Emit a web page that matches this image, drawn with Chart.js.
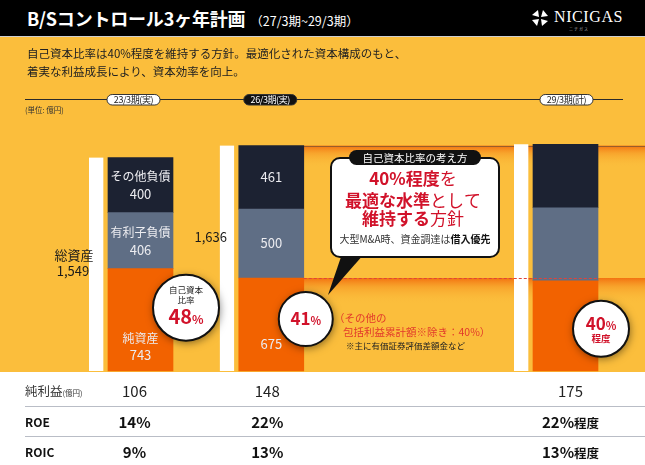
<!DOCTYPE html>
<html lang="ja">
<head>
<meta charset="utf-8">
<title>B/Sコントロール3ヶ年計画</title>
<script src="https://cdn.jsdelivr.net/npm/chart.js@4.4.1/dist/chart.umd.min.js"></script>
<style>
  body { margin: 0; background: #fff; font-family: "Noto Sans CJK JP", "Noto Sans", sans-serif; }
  #wrap { position: relative; width: 645px; height: 465px; overflow: hidden; }
  #chart { position: absolute; left: 0; top: 0; }
  .header { position: absolute; left: 0; top: 0; width: 645px; height: 37px; background: #000; color: #fff; z-index: 2; border-bottom: 1px solid #cfcfcf; box-sizing: border-box; }
  .title { position: absolute; left: 27px; top: 0; line-height: 37px; font-size: 18px; font-weight: 700; letter-spacing: -0.2px; white-space: nowrap; }
  .title span { font-size: 12.5px; font-weight: 400; margin-left: 5px; letter-spacing: 0; }
  .logo { position: absolute; left: 531px; top: 9px; height: 20px; }
  .logo svg { position: absolute; left: 0; top: 0; }
  .logo b { position: absolute; left: 23px; top: -1px; font: 400 16px "Liberation Serif", serif; letter-spacing: 0.6px; }
  .logo i { position: absolute; left: 38px; top: 17px; font: normal 4px "Noto Sans CJK JP"; color: #aaa; letter-spacing: 1px; white-space: nowrap; }
  .lead { position: absolute; left: 27px; top: 45px; font-size: 11.5px; line-height: 17.5px; color: #222; z-index: 2; white-space: nowrap; }
</style>
</head>
<body>
<div id="wrap">
  <canvas id="chart" width="645" height="465"></canvas>
  <div class="header">
    <div class="title">B/Sコントロール3ヶ年計画<span>（27/3期~29/3期）</span></div>
    <div class="logo">
      <svg width="18" height="18" viewBox="-9 -9 18 18">
        <g fill="#fff">
          <path d="M-1,-1 L-8,-3 L-2,-8 Z"/>
          <path d="M-1,-1 L-8,-3 L-2,-8 Z" transform="rotate(90)"/>
          <path d="M-1,-1 L-8,-3 L-2,-8 Z" transform="rotate(180)"/>
          <path d="M-1,-1 L-8,-3 L-2,-8 Z" transform="rotate(270)"/>
        </g>
      </svg>
      <b>NICIGAS</b>
      <i>ニチガス</i>
    </div>
  </div>
  <div class="lead">自己資本比率は40%程度を維持する方針。最適化された資本構成のもと、<br>着実な利益成長により、資本効率を向上。</div>
</div>

<script>
// periods and balance sheet values (億円)
const periods = ["23/3期(実)", "26/3期(実)", "29/3期(計)"];
const totalAssets = [1549, 1636, 1645];
const netAssets = [743, 675, 655];
const interestDebt = [406, 500, 530];
const otherLiab = [400, 461, 460];
const isPlan = [false, false, true];
const equityRatio = [48, 41, 40];

// table under the chart
const netIncome = [106, 148, 175];
const roe = [14, 22, 22];
const roic = [9, 13, 13];

// the three periods sit on a 14-slot axis, leaving room for the callout
const slotCount = 14;
const periodSlot = [0, 4, 13];

const axisLabels = [];
for (let i = 0; i < slotCount; i++) {
    const p = periodSlot.indexOf(i);
    axisLabels.push(p < 0 ? "" : periods[p]);
}
function toSlots(values) {
    const out = new Array(slotCount).fill(null);
    periodSlot.forEach((s, i) => { out[s] = values[i]; });
    return out;
}

const C = {
    yellow: "#FBBE3C",
    orange: "#F26200",
    slate: "#5F6E85",
    navy: "#1C2232",
    red: "#D1122A",
    noteRed: "#E2392B"
};
const FONT = "'Noto Sans CJK JP', 'Noto Sans', sans-serif";

function geom(chart, p) {
    const s = periodSlot[p];
    const w = chart.getDatasetMeta(0).data[s];
    const eq = chart.getDatasetMeta(1).data[s];
    const debt = chart.getDatasetMeta(2).data[s];
    const oth = chart.getDatasetMeta(3).data[s];
    return {
        whiteLeft: w.x - w.width / 2, whiteTop: w.y,
        left: eq.x - eq.width / 2, right: eq.x + eq.width / 2, cx: eq.x,
        bottom: eq.base, eqTop: eq.y, debtTop: debt.y, top: oth.y
    };
}

function txt(ctx, s, x, y, font, color, align) {
    ctx.font = font;
    ctx.fillStyle = color;
    ctx.textAlign = align || "center";
    ctx.textBaseline = "middle";
    ctx.fillText(s, x, y);
}

// mixed font pieces on one baseline
function runs(ctx, parts, x, baseline, align) {
    let total = 0;
    parts.forEach(r => { ctx.font = r.font; r.w = ctx.measureText(r.t).width; total += r.w; });
    let cx = align === "left" ? x : x - total / 2;
    ctx.textAlign = "left";
    ctx.textBaseline = "alphabetic";
    parts.forEach(r => {
        ctx.font = r.font;
        ctx.fillStyle = r.color;
        ctx.fillText(r.t, cx, baseline);
        cx += r.w;
    });
}

function roundRect(ctx, x, y, w, h, r) {
    ctx.beginPath();
    ctx.moveTo(x + r, y);
    ctx.arcTo(x + w, y, x + w, y + h, r);
    ctx.arcTo(x + w, y + h, x, y + h, r);
    ctx.arcTo(x, y + h, x, y, r);
    ctx.arcTo(x, y, x + w, y, r);
    ctx.closePath();
}

function band(ctx, x0, x1, y, h) {
    const g = ctx.createLinearGradient(0, y, 0, y + h);
    g.addColorStop(0, "rgba(242,110,14,0.95)");
    g.addColorStop(0.35, "rgba(246,148,34,0.6)");
    g.addColorStop(1, "rgba(251,190,60,0)");
    ctx.fillStyle = g;
    ctx.fillRect(x0, y, x1 - x0, h);
}

function circle(ctx, x, y, r) {
    ctx.save();
    ctx.shadowColor = "rgba(0,0,0,0.5)";
    ctx.shadowBlur = 8;
    ctx.shadowOffsetX = 1;
    ctx.shadowOffsetY = 2;
    ctx.beginPath();
    ctx.arc(x, y, r, 0, Math.PI * 2);
    ctx.fillStyle = "#fff";
    ctx.fill();
    ctx.restore();
    ctx.beginPath();
    ctx.arc(x, y, r, 0, Math.PI * 2);
    ctx.strokeStyle = "#111";
    ctx.lineWidth = 2;
    ctx.stroke();
}

const backdrop = {
    id: "backdrop",
    beforeDraw(chart) {
        const ctx = chart.ctx;
        ctx.save();
        ctx.fillStyle = C.yellow;
        ctx.fillRect(0, 37, chart.width, chart.chartArea.bottom - 37 + 1);
        ctx.restore();
    },
    beforeDatasetsDraw(chart) {
        const ctx = chart.ctx;
        const b2 = geom(chart, 1);
        const x0 = b2.right, x1 = chart.width;
        ctx.save();
        band(ctx, x0, x1, b2.top, 22);
        band(ctx, x0, x1, b2.eqTop, 26);
        ctx.strokeStyle = "rgba(80,70,60,0.55)";
        ctx.lineWidth = 1;
        ctx.beginPath();
        ctx.moveTo(x0, Math.round(b2.top) + 0.5);
        ctx.lineTo(x1, Math.round(b2.top) + 0.5);
        ctx.stroke();
        ctx.restore();
    }
};

const notes = {
    id: "notes",
    afterDatasetsDraw(chart) {
        const ctx = chart.ctx;
        const g = periods.map((_, p) => geom(chart, p));
        ctx.save();

        // dashed line at the current equity level
        ctx.strokeStyle = "#E0433A";
        ctx.lineWidth = 1;
        ctx.setLineDash([3, 2]);
        ctx.beginPath();
        ctx.moveTo(g[1].right, Math.round(g[1].eqTop) + 0.5);
        ctx.lineTo(g[2].right, Math.round(g[1].eqTop) + 0.5);
        ctx.stroke();
        ctx.setLineDash([]);

        // values inside the bars (actuals only)
        const lab = "#ECECF0";
        periods.forEach((_, p) => {
            if (isPlan[p]) return;
            const b = g[p];
            const oMid = (b.top + b.debtTop) / 2;
            const dMid = (b.debtTop + b.eqTop) / 2;
            if (p === 0) {
                txt(ctx, "その他負債", b.cx, oMid - 9, "12px " + FONT, lab);
                txt(ctx, String(otherLiab[p]), b.cx, oMid + 9, "13px " + FONT, lab);
                txt(ctx, "有利子負債", b.cx, dMid - 8, "12px " + FONT, lab);
                txt(ctx, String(interestDebt[p]), b.cx, dMid + 9, "13px " + FONT, lab);
                txt(ctx, "純資産", b.cx, b.bottom - 33, "12px " + FONT, lab);
                txt(ctx, String(netAssets[p]), b.cx, b.bottom - 16, "13px " + FONT, lab);
            } else {
                txt(ctx, String(otherLiab[p]), b.cx, oMid, "13px " + FONT, lab);
                txt(ctx, String(interestDebt[p]), b.cx, dMid, "13px " + FONT, lab);
                txt(ctx, String(netAssets[p]), b.cx, b.bottom - 27, "13px " + FONT, lab);
            }
        });

        // total assets
        const fmt = v => v.toLocaleString("en-US");
        txt(ctx, "総資産", g[0].whiteLeft - 15, g[0].whiteTop + 97, "13px " + FONT, "#1a1a1a");
        txt(ctx, fmt(totalAssets[0]), g[0].whiteLeft - 16, g[0].whiteTop + 113, "13px " + FONT, "#1a1a1a");
        txt(ctx, fmt(totalAssets[1]), g[1].whiteLeft - 9, g[1].whiteTop + 91, "13px " + FONT, "#1a1a1a");

        // callout bubble
        ctx.beginPath();
        ctx.moveTo(342, 254);
        ctx.lineTo(364, 254);
        ctx.lineTo(328, 295);
        ctx.closePath();
        ctx.fillStyle = "#111";
        ctx.fill();
        roundRect(ctx, 331, 158, 168, 99, 9);
        ctx.fillStyle = "#fff";
        ctx.fill();
        ctx.strokeStyle = "#111";
        ctx.lineWidth = 2;
        ctx.stroke();
        roundRect(ctx, 349, 150, 132, 15, 7.5);
        ctx.fillStyle = "#111";
        ctx.fill();
        txt(ctx, "自己資本比率の考え方", 415, 157.8, "10.5px " + FONT, "#fff");
        const big = "700 17px " + FONT, reg = "400 17px " + FONT;
        runs(ctx, [{ t: "40%程度", font: big, color: C.red }, { t: "を", font: reg, color: C.red }], 413, 184.5);
        runs(ctx, [{ t: "最適な水準", font: big, color: C.red }, { t: "として", font: reg, color: C.red }], 413, 206.5);
        runs(ctx, [{ t: "維持する", font: big, color: C.red }, { t: "方針", font: reg, color: C.red }], 413, 225);
        runs(ctx, [{ t: "大型M&A時、資金調達は", font: "400 10px " + FONT, color: "#333" },
                   { t: "借入優先", font: "700 10px " + FONT, color: "#111" }], 415, 242.8);

        // equity ratio circles
        const circ = [
            { dx: 13, dy: 39, r: 33 },
            { dx: 2, dy: 41, r: 27 },
            { dx: 3, dy: 48, r: 28 }
        ];
        const pts = circ.map((c, p) => ({ x: g[p].right + c.dx, y: g[p].eqTop + c.dy, r: c.r }));
        pts.forEach(c => circle(ctx, c.x, c.y, c.r));
        const c0 = pts[0], c1 = pts[1], c2 = pts[2];
        txt(ctx, "自己資本", c0.x, c0.y - 18, "8.5px " + FONT, "#222");
        txt(ctx, "比率", c0.x, c0.y - 8, "8.5px " + FONT, "#222");
        runs(ctx, [{ t: String(equityRatio[0]), font: "700 20px " + FONT, color: C.red },
                   { t: "%", font: "700 12px " + FONT, color: C.red }], c0.x, c0.y + 16.5);
        runs(ctx, [{ t: String(equityRatio[1]), font: "700 17px " + FONT, color: C.red },
                   { t: "%", font: "700 11px " + FONT, color: C.red }], c1.x, c1.y + 6);
        runs(ctx, [{ t: String(equityRatio[2]), font: "700 17px " + FONT, color: C.red },
                   { t: "%", font: "700 11px " + FONT, color: C.red }], c2.x, c2.y + 1);
        txt(ctx, "程度", c2.x, c2.y + 10, "700 9.5px " + FONT, C.red);

        // note next to the 41% circle
        txt(ctx, "（その他の", 334, 318, "10.5px " + FONT, C.noteRed, "left");
        txt(ctx, "包括利益累計額※除き：40%）", 343, 332, "10.5px " + FONT, C.noteRed, "left");
        txt(ctx, "※主に有価証券評価差額金など", 346, 345.5, "8.5px " + FONT, "#222", "left");

        ctx.restore();
    },
    afterDraw(chart) {
        const ctx = chart.ctx;
        const g = periods.map((_, p) => geom(chart, p));
        ctx.save();

        // timeline with period pills
        ctx.strokeStyle = "#2a2a2a";
        ctx.lineWidth = 1;
        ctx.beginPath();
        ctx.moveTo(25, 99.5);
        ctx.lineTo(623, 99.5);
        ctx.stroke();
        const pillDx = [-7, -1, 1];
        periods.forEach((name, p) => {
            const x = g[p].cx + pillDx[p];
            const dark = p === 1;
            roundRect(ctx, x - 26.5, 94.5, 53, 10.5, 5.2);
            ctx.fillStyle = dark ? "#111" : "#fff";
            ctx.fill();
            ctx.strokeStyle = "#333";
            ctx.lineWidth = 1;
            ctx.stroke();
            ctx.letterSpacing = "-0.4px";
            txt(ctx, name, x, 100, "9px " + FONT, dark ? "#fff" : "#222");
            ctx.letterSpacing = "0px";
        });
        txt(ctx, "(単位: 億円)", 25, 110, "7.5px " + FONT, "#333", "left");

        // KPI table
        const rowY = [391, 422, 452];
        ctx.strokeStyle = "#B9BDC6";
        ctx.lineWidth = 1.2;
        [406.5, 436.5].forEach(y => {
            ctx.beginPath();
            ctx.moveTo(25, y);
            ctx.lineTo(645, y);
            ctx.stroke();
        });
        runs(ctx, [{ t: "純利益", font: "12.5px " + FONT, color: "#333" },
                   { t: "(億円)", font: "7.5px " + FONT, color: "#333" }], 25, rowY[0] + 4.5, "left");
        txt(ctx, "ROE", 25, rowY[1], "700 12px " + FONT, "#111", "left");
        txt(ctx, "ROIC", 25, rowY[2], "700 12px " + FONT, "#111", "left");
        const colDx = [-6, -4, 5];
        periods.forEach((_, p) => {
            const x = g[p].cx + colDx[p];
            txt(ctx, String(netIncome[p]), x, rowY[0], "15px " + FONT, "#222");
            [roe, roic].forEach((arr, k) => {
                const parts = [{ t: arr[p] + "%", font: "700 15px " + FONT, color: "#111" }];
                if (isPlan[p]) parts.push({ t: "程度", font: "700 12.5px " + FONT, color: "#111" });
                runs(ctx, parts, x, rowY[k + 1] + 5.5);
            });
        });
        ctx.restore();
    }
};

const ctx = document.getElementById("chart").getContext("2d");
const bsChart = new Chart(ctx, {
    type: "bar",
    data: {
        labels: axisLabels,
        datasets: [
            {
                label: "総資産",
                data: toSlots(totalAssets),
                stack: "assets",
                backgroundColor: "#fff",
                barThickness: 19,
                borderWidth: { top: 0, right: 5, bottom: 0, left: 0 },
                borderColor: "rgba(0,0,0,0)",
                borderSkipped: false,
                clip: false
            },
            { label: "純資産", data: toSlots(netAssets), stack: "bs", backgroundColor: C.orange, barThickness: 65, clip: false },
            { label: "有利子負債", data: toSlots(interestDebt), stack: "bs", backgroundColor: C.slate, barThickness: 65, clip: false },
            { label: "その他負債", data: toSlots(otherLiab), stack: "bs", backgroundColor: C.navy, barThickness: 65, clip: false }
        ]
    },
    options: {
        responsive: false,
        animation: false,
        layout: { padding: { left: 108, right: 112, top: 123, bottom: 94 } },
        plugins: {
            legend: { display: false },
            tooltip: { enabled: false }
        },
        scales: {
            x: { stacked: true, offset: false, display: false },
            y: { stacked: true, min: 0, max: 1800, display: false }
        }
    },
    plugins: [backdrop, notes]
});
</script>
</body>
</html>
